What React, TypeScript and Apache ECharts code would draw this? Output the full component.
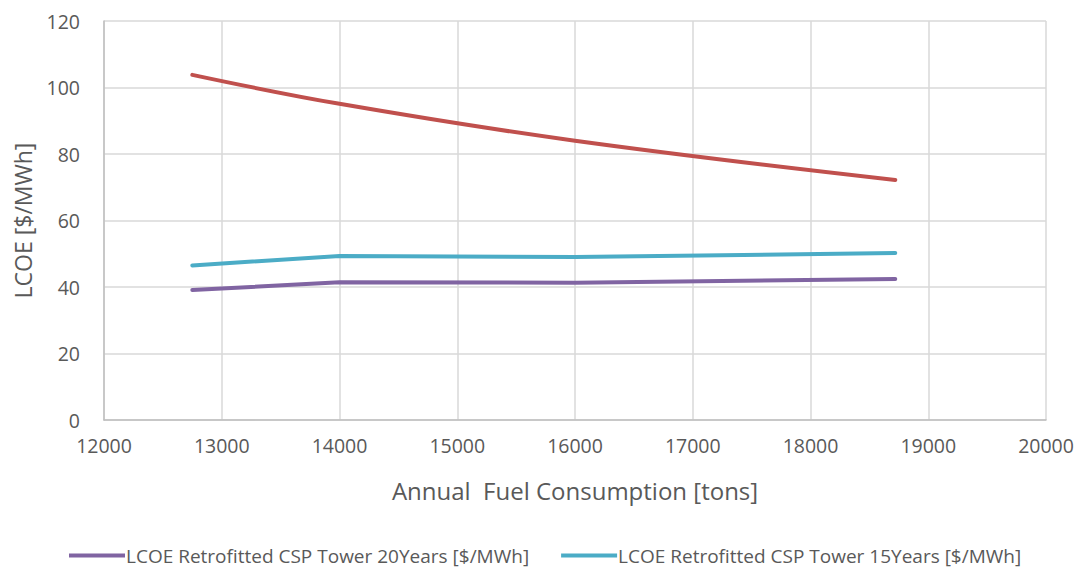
import React, { useEffect, useRef } from "react";
import * as echarts from "echarts";

const fuel = [12750, 14000, 16000, 18720];
const lcoe20 = [39.1, 41.4, 41.3, 42.4];
const lcoe15 = [46.5, 49.3, 49.0, 50.2];
const lcoeRed = [103.8, 95.1, 84.0, 72.2];
const seriesNames = [
  "LCOE Retrofitted CSP Tower 20Years [$/MWh]",
  "LCOE Retrofitted CSP Tower 15Years [$/MWh]",
  "LCOE Retrofitted CSP Tower 10Years [$/MWh]",
];

const pairs = (ys: number[]) => fuel.map((x, i) => [x, ys[i]]);

export default function App() {
  const ref = useRef<HTMLDivElement>(null);
  useEffect(() => {
    if (!ref.current) return;
    const chart = echarts.init(ref.current, undefined, { renderer: "svg" });
    const font = "'Open Sans', 'Liberation Sans', sans-serif";
    const grey = "#595959";
    chart.setOption({
      animation: false,
      textStyle: { fontFamily: font },
      grid: { left: 104, right: 35, top: 21, bottom: 150 },
      xAxis: {
        type: "value",
        min: 12000,
        max: 20000,
        interval: 1000,
        name: "Annual  Fuel Consumption [tons]",
        nameLocation: "middle",
        nameGap: 58,
        nameTextStyle: { fontSize: 24, color: grey, fontFamily: font },
        axisLine: { show: true, lineStyle: { color: "#bfbfbf", width: 1.5 } },
        axisTick: { show: false },
        axisLabel: {
          fontSize: 19.5,
          color: grey,
          margin: 15,
          fontFamily: font,
          formatter: (v: number) => String(v),
        },
        splitLine: { show: true, lineStyle: { color: "#d9d9d9", width: 1.5 } },
      },
      yAxis: {
        type: "value",
        min: 0,
        max: 120,
        interval: 20,
        name: "LCOE [$/MWh]",
        nameLocation: "middle",
        nameGap: 70,
        nameTextStyle: { fontSize: 23, color: grey, fontFamily: font },
        axisLine: { show: true, lineStyle: { color: "#bfbfbf", width: 1.5 } },
        axisTick: { show: false },
        axisLabel: { fontSize: 19.5, color: grey, margin: 24, fontFamily: font },
        splitLine: { show: true, lineStyle: { color: "#d9d9d9", width: 1.5 } },
      },
      legend: {
        bottom: 0,
        left: 64,
        itemGap: 32,
        icon: "rect",
        itemWidth: 56,
        itemHeight: 4,
        data: [seriesNames[0], seriesNames[1]],
        textStyle: { fontSize: 19, color: grey, fontFamily: font, padding: [0, 0, 0, -4] },
      },
      series: [
        {
          name: seriesNames[0],
          type: "line",
          data: pairs(lcoe20),
          symbol: "none",
          lineStyle: { color: "#8064A2", width: 4, cap: "round" },
          itemStyle: { color: "#8064A2" },
        },
        {
          name: seriesNames[1],
          type: "line",
          data: pairs(lcoe15),
          symbol: "none",
          lineStyle: { color: "#4BACC6", width: 4, cap: "round" },
          itemStyle: { color: "#4BACC6" },
        },
        {
          name: seriesNames[2],
          type: "line",
          data: pairs(lcoeRed),
          symbol: "none",
          smooth: 0.4,
          lineStyle: { color: "#C0504D", width: 4, cap: "round" },
          itemStyle: { color: "#C0504D" },
        },
      ],
    });
    return () => chart.dispose();
  }, []);
  return <div ref={ref} style={{ width: 1081, height: 570, position: "absolute", left: 0, top: 0 }} />;
}
